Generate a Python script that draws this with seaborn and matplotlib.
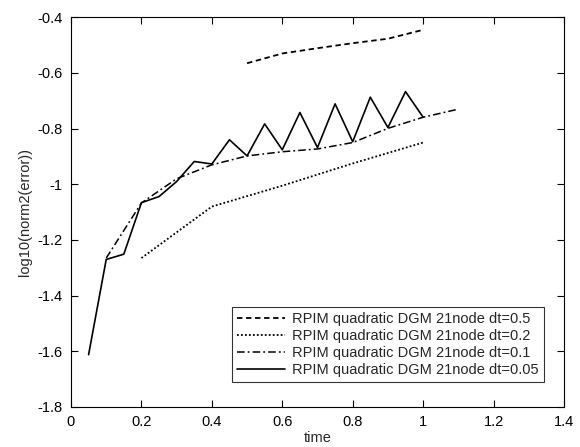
import matplotlib
matplotlib.use("Agg")
import matplotlib.pyplot as plt
import seaborn as sns
import pandas as pd
from matplotlib.ticker import FuncFormatter, FixedLocator
from matplotlib.lines import Line2D

sns.set_theme(style="white")
plt.rcParams['font.family'] = ['Liberation Sans', 'DejaVu Sans']

t_05 = [0.5, 0.6, 0.7, 0.8, 0.9, 1.0]
e_05 = [-0.565, -0.530, -0.511, -0.493, -0.477, -0.445]

t_02 = [0.2, 0.4, 0.6, 0.8, 1.0]
e_02 = [-1.265, -1.08, -1.005, -0.925, -0.85]

t_01 = [0.1, 0.2, 0.3, 0.4, 0.5, 0.6, 0.7, 0.8, 0.9, 1.0, 1.1]
e_01 = [-1.265, -1.067, -0.98, -0.93, -0.898, -0.883, -0.873, -0.85, -0.799, -0.759, -0.730]

t_005 = [0.05, 0.1, 0.15, 0.2, 0.25, 0.3, 0.35, 0.4, 0.45, 0.5, 0.55, 0.6,
         0.65, 0.7, 0.75, 0.8, 0.85, 0.9, 0.95, 1.0]
e_005 = [-1.612, -1.27, -1.251, -1.066, -1.044, -0.99, -0.918, -0.927, -0.84, -0.898,
         -0.783, -0.876, -0.742, -0.868, -0.711, -0.847, -0.687, -0.796, -0.667, -0.759]

labels = ["RPIM quadratic DGM 21node dt=0.5",
          "RPIM quadratic DGM 21node dt=0.2",
          "RPIM quadratic DGM 21node dt=0.1",
          "RPIM quadratic DGM 21node dt=0.05"]

xticks = [0, 0.2, 0.4, 0.6, 0.8, 1.0, 1.2, 1.4]
yticks = [-1.8, -1.6, -1.4, -1.2, -1.0, -0.8, -0.6, -0.4]

series = [(t_05, e_05), (t_02, e_02), (t_01, e_01), (t_005, e_005)]
styles = [dict(linestyle=(0, (3, 2)), linewidth=1.3),
          dict(linestyle=(0, (1, 1.2)), linewidth=1.3),
          dict(linestyle=(0, (5, 2, 1.2, 2)), linewidth=1.1),
          dict(linestyle='-', linewidth=1.2)]

fig = plt.figure(figsize=(5.8, 4.47), dpi=100)
ax = fig.add_axes([0.1224, 0.0895, 0.85, 0.8718])

for (t, e), st in zip(series, styles):
    df = pd.DataFrame({"time": t, "err": e})
    sns.lineplot(data=df, x="time", y="err", ax=ax, color="black",
                 estimator=None, sort=False, **st)

ax.set_xlim(0, 1.4)
ax.set_ylim(-1.8, -0.4)
ax.xaxis.set_major_locator(FixedLocator(xticks))
ax.yaxis.set_major_locator(FixedLocator(yticks))
fmt = FuncFormatter(lambda v, p: "%g" % round(v, 2))
ax.xaxis.set_major_formatter(fmt)
ax.yaxis.set_major_formatter(fmt)
ax.tick_params(direction='in', length=5, width=0.8, top=True, right=True,
               labelsize=10.5, colors='black', pad=6)
ax.tick_params(axis='both', which='both', bottom=True, left=True)
for s in ax.spines.values():
    s.set_color('black')
    s.set_linewidth(0.8)
ax.set_xlabel("time", fontsize=10.5, labelpad=1)
ax.set_ylabel("log10(norm2(error))", fontsize=10.5, labelpad=4)

handles = [Line2D([0], [0], color='black', **st) for st in styles]
leg = ax.legend(handles, labels, loc='lower right', fontsize=10.5,
                frameon=True, fancybox=False, edgecolor='black',
                handlelength=3.3, handletextpad=0.5, borderpad=0.35,
                labelspacing=0.2, bbox_to_anchor=(0.974, 0.045))
leg.get_frame().set_linewidth(0.8)

fig.savefig("out.png", dpi=100, facecolor='white')
